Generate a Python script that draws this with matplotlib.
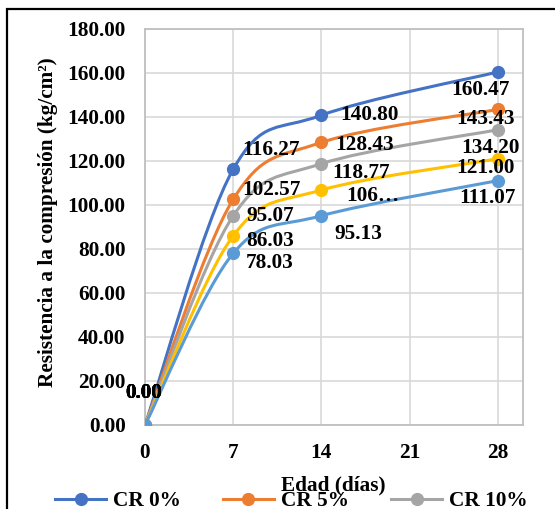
import numpy as np
import matplotlib
matplotlib.use("Agg")
import matplotlib.pyplot as plt
from matplotlib.path import Path
from matplotlib.patches import PathPatch, Rectangle
from matplotlib.lines import Line2D

plt.rcParams['font.family'] = ['Liberation Serif', 'DejaVu Serif']
plt.rcParams['font.weight'] = 'bold'

# data
dias = [0, 7, 14, 28]
series = ['CR 0%', 'CR 5%', 'CR 10%', 'CR 15%', 'CR 20%']
cr0 = [0.00, 116.27, 140.80, 160.47]
cr5 = [0.00, 102.57, 128.43, 143.43]
cr10 = [0.00, 95.07, 118.77, 134.20]
cr15 = [0.00, 86.03, 106.80, 121.00]
cr20 = [0.00, 78.03, 95.13, 111.07]
valores = [cr0, cr5, cr10, cr15, cr20]
colores = ['#4472C4', '#ED7D31', '#A5A5A5', '#FFC000', '#5B9BD5']
xticks = [0, 7, 14, 21, 28]
yticks = np.arange(0, 181, 20)

# label offsets in pixels (dx, dy) for each point
offs = [
    [(-1, 32), (38, 19), (48, 0), (-17, -18)],
    [(-1, 32), (38, 9), (43, -3), (-12, -10)],
    [(-1, 32), (37, 0), (40, -9), (-7, -18)],
    [(-1, 32), (37, -5), (51, -6), (-12, -9)],
    [(-1, 32), (36, -10), (37, -18), (-10, -17)],
]

FS = 15.3
W, H = 555, 509
fig = plt.figure(figsize=(W / 100, H / 100), dpi=100)
ax = fig.add_axes([145 / W, 1 - 425 / H, 378 / W, 396 / H])


def smooth_path(x, y):
    # Excel-like smoothed line: cubic bezier with catmull-rom tangents
    p = np.column_stack([x, y]).astype(float)
    n = len(p)
    verts = [p[0]]
    codes = [Path.MOVETO]
    for i in range(n - 1):
        p0 = p[i - 1] if i > 0 else p[i]
        p3 = p[i + 2] if i + 2 < n else p[i + 1]
        c1 = p[i] + (p[i + 1] - p0) / 6
        c2 = p[i + 1] - (p3 - p[i]) / 6
        verts += [c1, c2, p[i + 1]]
        codes += [Path.CURVE4] * 3
    return Path(verts, codes)


for k, (vals, col) in enumerate(zip(valores, colores)):
    patch = PathPatch(smooth_path(dias, vals), facecolor='none', edgecolor=col,
                      lw=2.2, zorder=3 + k, capstyle='round')
    ax.add_patch(patch)
    ax.plot(dias, vals, ls='none', marker='o', ms=8.5, color=col, zorder=3 + k)

for k, vals in enumerate(valores):
    for j, v in enumerate(vals):
        txt = '%.2f' % v
        if k == 3 and j == 2:
            txt = '106…'
        ax.annotate(txt, (dias[j], v), xytext=offs[k][j], textcoords='offset pixels',
                    ha='center', va='center', fontsize=FS, fontweight='bold',
                    color='black', zorder=20, annotation_clip=False)

ax.set_xlim(0, 30)
ax.set_ylim(0, 180)
ax.set_xticks(xticks)
ax.set_yticks(yticks)
ax.set_yticklabels(['%.2f' % t for t in yticks])
ax.tick_params(length=0, labelsize=FS)
ax.tick_params(axis='y', pad=14)
ax.tick_params(axis='x', pad=13)
ax.grid(True, color='#D9D9D9', lw=1.2)
ax.set_axisbelow(True)
for s in ax.spines.values():
    s.set_color('#BFBFBF')
    s.set_linewidth(1.3)

ax.set_xlabel('Edad (días)', fontsize=FS, fontweight='bold')
ax.xaxis.set_label_coords(0.497, -0.154)
ax.xaxis.label.set_va('center')
ax.set_ylabel('Resistencia a la compresión (kg/cm²)', fontsize=FS, fontweight='bold')
ax.yaxis.set_label_coords(-0.2566, 0.513)
ax.yaxis.label.set_va('center')

# only the first legend row is visible in the picture
handles = [Line2D([], [], color=c, lw=2.2, marker='o', ms=8.5) for c in colores[:3]]
fig.legend(handles, series[:3], ncol=3,
           loc='upper left', bbox_to_anchor=(55 / W, 1 - 491 / H), frameon=False,
           handlelength=2.4, handletextpad=0.33, columnspacing=1.98,
           borderpad=0, borderaxespad=0, prop={'weight': 'bold', 'size': FS})

fig.patches.append(Rectangle((7 / W, -0.1), 1.2, 1.1 - 9 / H, transform=fig.transFigure,
                             fill=False, edgecolor='black', lw=1.6))

fig.savefig('out.png', dpi=100)
